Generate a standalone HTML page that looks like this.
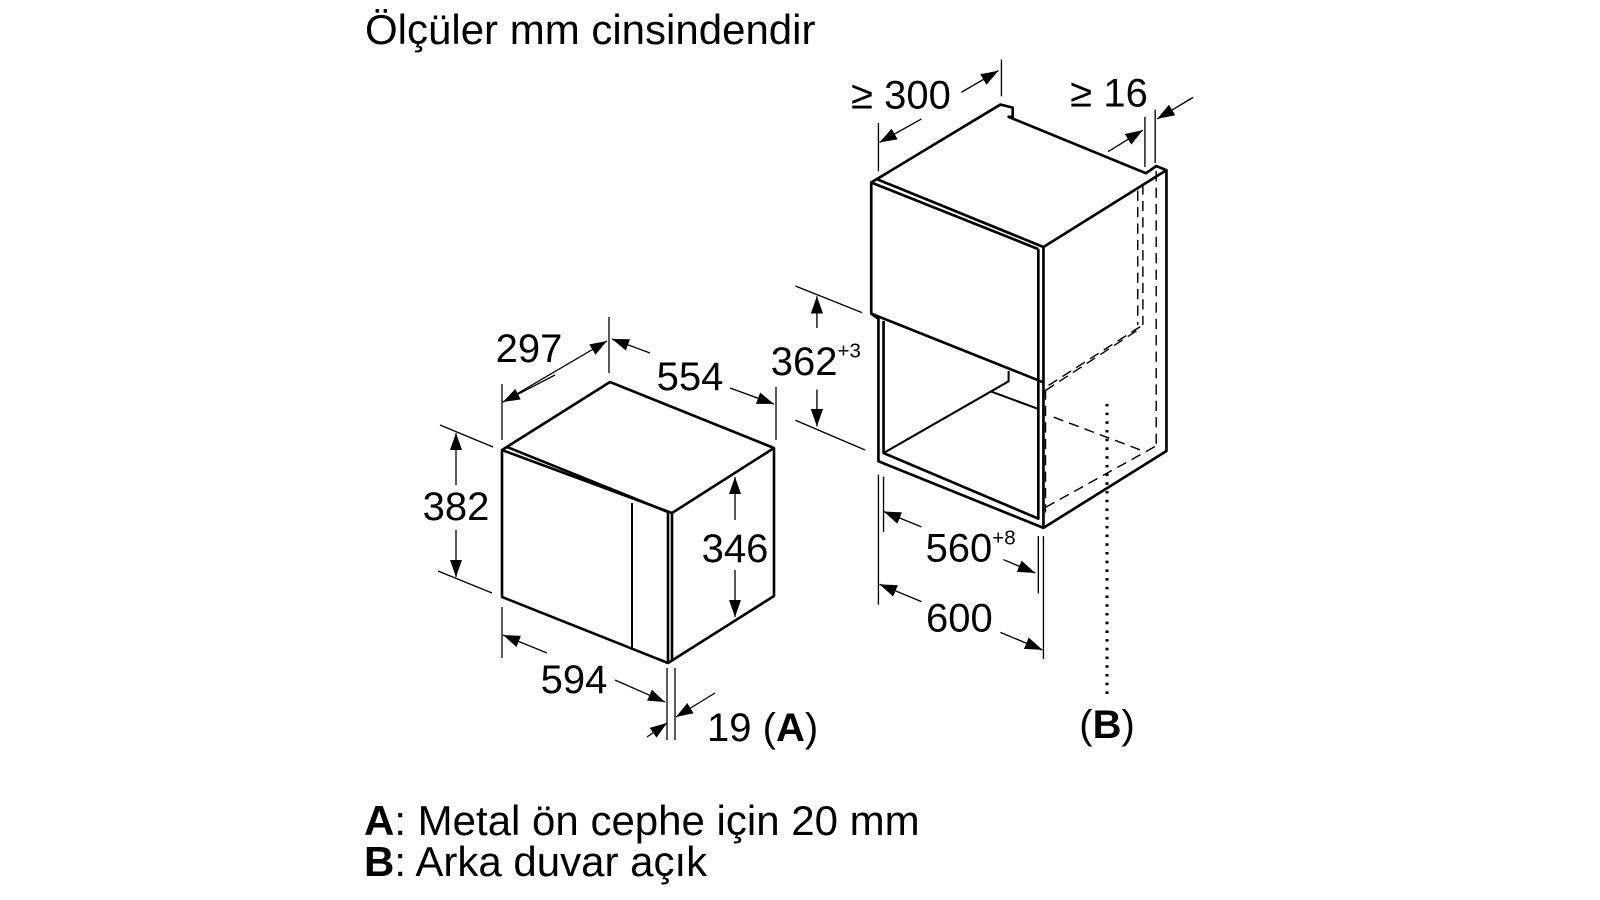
<!DOCTYPE html>
<html><head><meta charset="utf-8"><style>
html,body{margin:0;padding:0;background:#fff;}
svg{display:block;font-family:"Liberation Sans",sans-serif;}
</style></head><body>
<svg width="1600" height="900" viewBox="0 0 1600 900" xmlns="http://www.w3.org/2000/svg">
<defs>
<marker id="a" markerUnits="userSpaceOnUse" markerWidth="18" markerHeight="14" refX="17" refY="6" orient="auto">
<path d="M0,0 L17,6 L0,12 Z" fill="#000"/></marker>
</defs>
<text x="365" y="44" font-size="42">Ölçüler mm cinsindendir</text>
<text x="364" y="835" font-size="42"><tspan font-weight="bold">A</tspan>: Metal ön cephe için 20 mm</text>
<text x="364" y="876" font-size="42"><tspan font-weight="bold">B</tspan>: Arka duvar açık</text>

<!-- Microwave -->
<g fill="none" stroke="#000" stroke-width="2.6" stroke-linejoin="round">
<path d="M502,450 L610,382 L774,448 L774,596 L668,663 L502,597 Z"/>
<path d="M502,450 L672,513 L774,448"/>
<path d="M507,447 L668,512 L668,663"/>
<path d="M672,513 L672,660"/>
<path d="M632,503 L632,650" stroke-width="2"/>
</g>
<g stroke="#000" stroke-width="1.3" fill="none">
<line x1="609" y1="317" x2="609" y2="373"/>
<line x1="502" y1="384" x2="502" y2="440"/>
<line x1="776" y1="387" x2="776" y2="440"/>
<line x1="440" y1="425" x2="493" y2="447"/>
<line x1="438" y1="571" x2="492" y2="593"/>
<line x1="502" y1="607" x2="502" y2="658"/>
<line x1="667" y1="668" x2="667" y2="740"/>
<line x1="675" y1="668" x2="675" y2="740"/>
<line x1="555" y1="375" x2="503" y2="402" marker-end="url(#a)"/>
<line x1="503" y1="402" x2="607" y2="341" marker-end="url(#a)"/>
<line x1="650" y1="353" x2="612" y2="339" marker-end="url(#a)"/>
<line x1="730" y1="388" x2="774" y2="404" marker-end="url(#a)"/>
<line x1="456" y1="485" x2="456" y2="433" marker-end="url(#a)"/>
<line x1="456" y1="530" x2="456" y2="577" marker-end="url(#a)"/>
<line x1="735" y1="520" x2="735" y2="477" marker-end="url(#a)"/>
<line x1="735" y1="570" x2="735" y2="617" marker-end="url(#a)"/>
<line x1="547" y1="653" x2="503" y2="635" marker-end="url(#a)"/>
<line x1="615" y1="680" x2="665" y2="702" marker-end="url(#a)"/>
<line x1="715" y1="693" x2="676" y2="717" marker-end="url(#a)"/>
<line x1="647" y1="737" x2="667" y2="723" marker-end="url(#a)"/>
</g>
<g font-size="40" text-anchor="middle">
<text x="529" y="362">297</text>
<text x="690" y="390">554</text>
<text x="456" y="520">382</text>
<text x="735" y="562">346</text>
<text x="574" y="693">594</text>
</g>
<text x="707" y="741" font-size="40">19 (<tspan font-weight="bold">A</tspan>)</text>

<!-- Cabinet -->
<g transform="matrix(1.025,0,0,1.025,0,0)">
<g fill="none" stroke="#000" stroke-width="2.6" stroke-linejoin="round">
<path d="M850,178 L976,102 L988,105 L988,114 L984,114 L1118,169 L1128,162 L1138,166 L1138,440 L1018,515 L857,450 L857,311 L850,306 Z"/>
<path d="M856,175 L1018,241 L1138,166"/>
<path d="M850,178 L1013,243"/>
<path d="M850,306 L1018,373"/>
<path d="M1013,243 L1013,506 L862,442 L862,313"/>
<path d="M1018,241 L1018,515"/>
<path d="M862,442 L984,372 L984,362" stroke-width="2"/>
<path d="M967,382 L1013,399" stroke-width="2"/>
</g>
<g fill="none" stroke="#000" stroke-width="1.4" stroke-dasharray="10,6">
<line x1="1110" y1="186" x2="1110" y2="317"/>
<line x1="1115" y1="180" x2="1115" y2="317"/>
<line x1="1128" y1="167" x2="1128" y2="435"/>
<line x1="1023" y1="376" x2="1115" y2="317"/>
<line x1="1020" y1="381" x2="1110" y2="322"/>
<line x1="1028" y1="407" x2="1118" y2="441"/>
<line x1="1020" y1="495" x2="1128" y2="435"/>
<line x1="1020" y1="380" x2="1020" y2="500"/>
</g>
<line x1="1080" y1="394" x2="1080" y2="682" stroke="#000" stroke-width="3" stroke-dasharray="2.5,6"/>
<g stroke="#000" stroke-width="1.3" fill="none">
<line x1="977" y1="58" x2="977" y2="94"/>
<line x1="857" y1="120" x2="857" y2="167"/>
<line x1="938" y1="90" x2="974" y2="69" marker-end="url(#a)"/>
<line x1="899" y1="116" x2="858" y2="139" marker-end="url(#a)"/>
<line x1="1117" y1="114" x2="1117" y2="163"/>
<line x1="1127" y1="107" x2="1127" y2="159"/>
<line x1="1081" y1="148" x2="1115" y2="127" marker-end="url(#a)"/>
<line x1="1164" y1="95" x2="1129" y2="116" marker-end="url(#a)"/>
<line x1="776" y1="279" x2="841" y2="305"/>
<line x1="776" y1="410" x2="844" y2="439"/>
<line x1="797" y1="320" x2="797" y2="289" marker-end="url(#a)"/>
<line x1="797" y1="380" x2="797" y2="416" marker-end="url(#a)"/>
<line x1="862" y1="465" x2="862" y2="519"/>
<line x1="1013" y1="523" x2="1013" y2="579"/>
<line x1="899" y1="514" x2="862" y2="499" marker-end="url(#a)"/>
<line x1="979" y1="546" x2="1010" y2="559" marker-end="url(#a)"/>
<line x1="857" y1="463" x2="857" y2="590"/>
<line x1="1018" y1="523" x2="1018" y2="643"/>
<line x1="899" y1="587" x2="858" y2="570" marker-end="url(#a)"/>
<line x1="976" y1="617" x2="1017" y2="634" marker-end="url(#a)"/>
</g>
<g font-size="39" text-anchor="middle">
<text x="879" y="106">≥ 300</text>
<text x="1082" y="104">≥ 16</text>
<text x="936" y="616">600</text>
</g>
<text x="752" y="366" font-size="39">362<tspan font-size="20" dy="-17">+3</tspan></text>
<text x="903" y="548" font-size="39">560<tspan font-size="20" dy="-17">+8</tspan></text>
<text x="1080" y="720" font-size="39" text-anchor="middle">(<tspan font-weight="bold">B</tspan>)</text>
</g>
</svg>
</body></html>
